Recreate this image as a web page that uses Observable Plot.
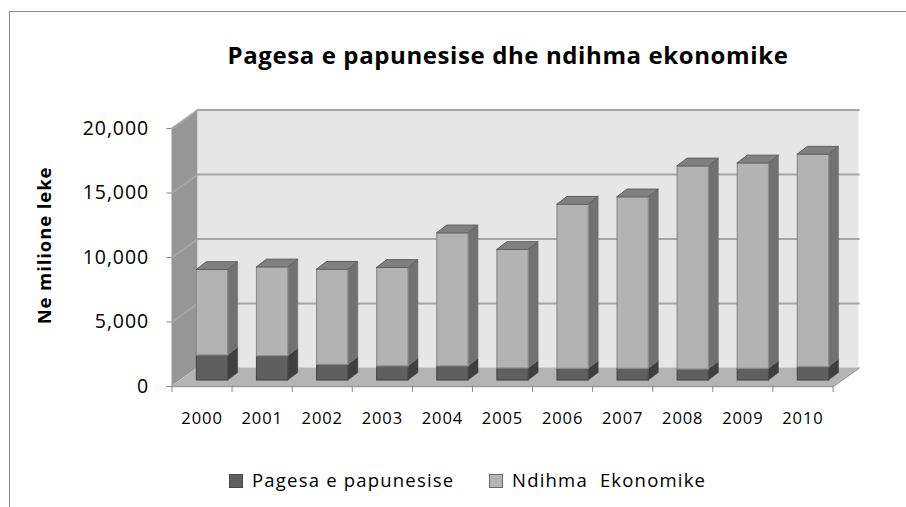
<!DOCTYPE html>
<html>
<head>
<meta charset="utf-8">
<script src="https://cdn.jsdelivr.net/npm/d3@7"></script>
<script src="https://cdn.jsdelivr.net/npm/@observablehq/plot@0.6"></script>
<style>
  html, body { margin: 0; padding: 0; background: #fff; }
  #wrap { position: relative; width: 906px; height: 507px; overflow: hidden; font-family: "Open Sans", sans-serif; color: #000; }
  #frame { position: absolute; left: 9px; top: 11px; width: 1000px; height: 600px; border-left: 1.5px solid #8a8a8a; border-top: 1.5px solid #8a8a8a; }
  #chart { position: absolute; left: 0; top: 0; }
  #title { position: absolute; left: 0; width: 1016px; top: 40px; text-align: center; font-weight: bold; font-size: 24px; line-height: 30px; letter-spacing: 0.6px; white-space: nowrap; }
  #legend { position: absolute; left: 0; top: 466px; width: 906px; height: 28px; }
  .item { position: absolute; top: 0; height: 28px; line-height: 28px; font-size: 18.5px; letter-spacing: 1.2px; white-space: pre; }
  .sw { position: absolute; left: 0; top: 8px; width: 14px; height: 14px; box-sizing: border-box; }
  .lbl { position: absolute; left: 23px; top: 0; }
</style>
</head>
<body>
<div id="wrap">
  <div id="frame"></div>
  <div id="chart"></div>
  <div id="title">Pagesa e papunesise dhe ndihma ekonomike</div>
  <div id="legend"></div>
</div>
<script>
// ---- data ----
const years = ["2000","2001","2002","2003","2004","2005","2006","2007","2008","2009","2010"];
const pagesa = [1940, 1880, 1210, 1090, 1090, 930, 900, 900, 850, 900, 1030];
const ndihma = [6640, 6900, 7390, 7650, 10330, 9200, 12740, 13310, 15760, 15940, 16490];
const yTicks = [0, 5000, 10000, 15000, 20000];
const seriesNames = ["Pagesa e papunesise", "Ndihma  Ekonomike"];
const yTitle = "Ne milione leke";

// ---- styles ----
const frontFill = ["#5f5f5f", "#b3b3b3"];
const frontStroke = ["#4a4a4a", "#8c8c8c"];
const sideFill = ["#3f3f3f", "#717171"];
const topFill = "#808080", topStroke = "#5e5e5e";

// 3D depth (in data units of the scales)
const DX = 0.43, DY = 1430;      // wall depth
const BX = 0.175, BY = 465;      // bar front offset inside the depth
const HW = 0.26;                 // bar half width
const BDX = 0.166, BDY = 590;    // bar depth

const x0 = -0.5, x1 = years.length - 0.5;
const yMax = d3.max(yTicks);

const segs = [];
years.forEach((yr, i) => {
  segs.push({i, s: 0, lo: 0, hi: pagesa[i]});
  segs.push({i, s: 1, lo: pagesa[i], hi: pagesa[i] + ndihma[i]});
});

const sidePts = segs.flatMap(d => [
  {k: d.i + "-" + d.s, s: d.s, x: d.i + BX + HW, lo: d.lo + BY, hi: d.hi + BY},
  {k: d.i + "-" + d.s, s: d.s, x: d.i + BX + HW + BDX, lo: d.lo + BY + BDY, hi: d.hi + BY + BDY}
]);
const topPts = segs.filter(d => d.s === 1).flatMap(d => [
  {k: d.i, y: d.hi + BY, a: d.i + BX - HW, b: d.i + BX + HW},
  {k: d.i, y: d.hi + BY + BDY, a: d.i + BX - HW + BDX, b: d.i + BX + HW + BDX}
]);

const sideWall = [{x: x0, lo: 0, hi: yMax}, {x: x0 + DX, lo: DY, hi: yMax + DY}];
const backWall = [{x: x0 + DX, lo: DY, hi: yMax + DY}, {x: x1 + DX, lo: DY, hi: yMax + DY}];
const floor = [{x: x0, lo: 0, hi: 0}, {x: x0 + DX, lo: 0, hi: DY}, {x: x1, lo: 0, hi: DY}, {x: x1 + DX, lo: DY, hi: DY}];
const floorEdge = [{x: x0, y: 0}, {x: x1, y: 0}, {x: x1 + DX, y: DY}];
const grid = yTicks.filter(v => v > 0).flatMap(v => [
  {v, x: x0, y: v}, {v, x: x0 + DX, y: v + DY}, {v, x: x1 + DX, y: v + DY}
]);
const boundaries = d3.range(years.length + 1).map(i => i - 0.5);

const marks = [
  Plot.areaY(backWall, {x: "x", y1: "lo", y2: "hi", fill: "#e6e6e6"}),
  Plot.areaY(sideWall, {x: "x", y1: "lo", y2: "hi", fill: "#969696"}),
  Plot.line(grid, {x: "x", y: "y", z: "v", stroke: "#a6a6a6", strokeWidth: 2}),
  Plot.areaY(floor, {x: "x", y1: "lo", y2: "hi", fill: "#b4b4b4"}),
  Plot.line(floorEdge, {x: "x", y: "y", stroke: "#9a9a9a", strokeWidth: 1.5}),
];
for (const s of [0, 1]) {
  marks.push(Plot.areaY(sidePts.filter(d => d.s === s), {x: "x", y1: "lo", y2: "hi", z: "k", fill: sideFill[s], stroke: sideFill[s], strokeWidth: 0.5}));
  marks.push(Plot.rect(segs.filter(d => d.s === s), {
    x1: d => d.i + BX - HW, x2: d => d.i + BX + HW,
    y1: d => d.lo + BY, y2: d => d.hi + BY,
    fill: frontFill[s], stroke: frontStroke[s], strokeWidth: 1.2
  }));
}
marks.push(Plot.areaX(topPts, {y: "y", x1: "a", x2: "b", z: "k", fill: topFill, stroke: topStroke, strokeWidth: 1}));
marks.push(
  Plot.axisY(yTicks, {anchor: "left", tickSize: 5, tickPadding: 18, tickFormat: d3.format(","), fontSize: 19.5, label: null, stroke: "#8a8a8a"}),
  Plot.axisX(boundaries, {anchor: "bottom", tickSize: 6, tickFormat: () => "", label: null, stroke: "#8a8a8a"}),
  Plot.axisX(years.map((_, i) => i), {anchor: "bottom", tickSize: 0, tickPadding: 26, tickFormat: i => years[i], fontSize: 16.5, label: null}),
  Plot.text([yTitle], {frameAnchor: "left", textAnchor: "middle", rotate: -90, dx: -127, dy: -12, fontWeight: "bold", fontSize: 18.5, fill: "#000"})
);

const chart = Plot.plot({
  width: 906, height: 440,
  marginLeft: 171.5, marginRight: 73.5, marginTop: 128, marginBottom: 54,
  x: {type: "linear", domain: [x0, x1]},
  y: {type: "linear", domain: [0, yMax]},
  style: {background: "transparent", fontFamily: "Open Sans, sans-serif", color: "#000", overflow: "visible"},
  marks
});
chart.querySelectorAll("text").forEach(t => t.style.letterSpacing = "0.9px");
document.getElementById("chart").appendChild(chart);

// legend
const legend = document.getElementById("legend");
const lx = [229, 489];
seriesNames.forEach((name, s) => {
  const it = document.createElement("div");
  it.className = "item";
  it.style.left = lx[s] + "px";
  it.style.width = "240px";
  const sw = document.createElement("div");
  sw.className = "sw";
  sw.style.background = frontFill[s];
  sw.style.border = "1px solid " + (s ? "#6a6a6a" : "#4a4a4a");
  const lb = document.createElement("div");
  lb.className = "lbl";
  lb.textContent = name;
  it.appendChild(sw);
  it.appendChild(lb);
  legend.appendChild(it);
});
</script>
</body>
</html>
